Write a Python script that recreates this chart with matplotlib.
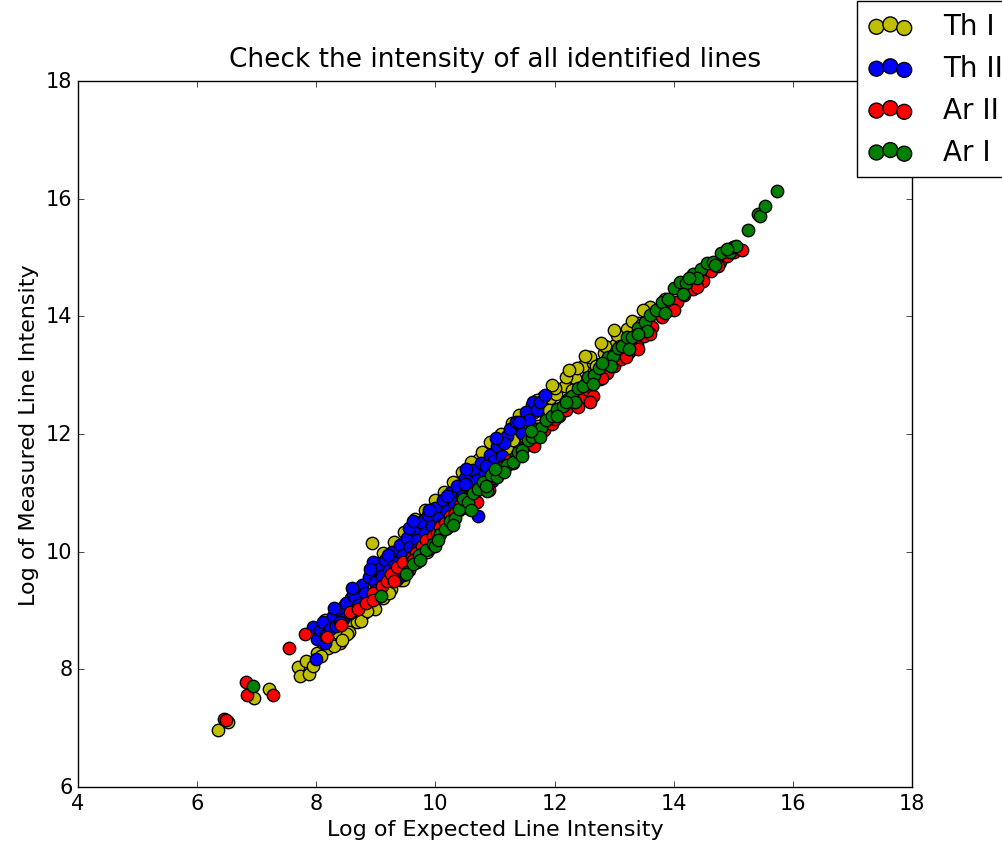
import numpy as np
import matplotlib
matplotlib.use("Agg")
import matplotlib.pyplot as plt

# Th I
thi_x = [6.35, 6.52, 6.95, 7.21, 7.69, 7.73, 7.83, 7.88, 7.95, 8.94,
         8.02, 8.05, 8.11, 8.14, 8.19, 8.23, 8.28, 8.33, 8.37, 8.40, 8.46, 8.50, 8.55, 8.59, 8.63,
         8.68, 8.72, 8.76, 8.81, 8.85, 8.90, 8.97,
         9.03, 9.07, 9.12, 9.16, 9.20, 9.26, 9.31, 9.35, 9.40, 9.44, 9.49, 9.55, 9.60, 9.64, 9.70,
         9.75, 9.80, 9.86, 9.90, 9.95,
         10.02, 10.06, 10.12, 10.17, 10.22, 10.27, 10.32, 10.38, 10.43, 10.48, 10.53, 10.58, 10.63,
         10.69, 10.74, 10.79, 10.85, 10.90, 10.96, 11.02,
         11.08, 11.13, 11.19, 11.25, 11.31, 11.38, 11.45, 11.52, 11.58, 11.65, 11.72, 11.79, 11.86, 11.93,
         12.02, 12.10, 12.18, 12.27, 12.35, 12.44, 12.48, 12.56, 12.65, 12.74, 12.83, 12.92, 13.02,
         13.12, 13.22, 13.31, 13.40, 13.50, 13.57, 13.60, 13.68,
         9.12, 9.30, 9.48, 9.66, 9.83, 10.00, 10.15, 10.30, 10.45, 10.60, 10.78, 10.92, 11.10, 11.28,
         11.40, 11.62, 11.80, 12.00, 12.20, 12.38, 12.60, 12.85, 13.05, 13.30, 13.48,
         8.08, 8.30, 8.52, 8.75, 8.98, 9.22, 9.45, 8.85, 8.43,
         10.20, 10.55, 11.30, 11.50, 11.90, 12.30, 12.70, 13.10, 13.45, 13.75, 13.85,
         11.70, 11.96, 12.25, 12.52, 12.78, 13.00]
thi_y = [6.97, 7.10, 7.51, 7.67, 8.04, 7.89, 8.14, 7.92, 8.06, 10.15,
         8.28, 8.62, 8.45, 8.83, 8.36, 8.71, 8.52, 8.95, 8.61, 8.44, 9.07, 8.78, 8.63, 9.21, 8.92,
         8.81, 9.34, 9.02, 8.95, 9.47, 9.15, 9.06,
         9.62, 9.30, 9.21, 9.79, 9.45, 9.37, 9.93, 9.60, 9.51, 10.08, 9.74, 9.68, 10.22, 9.90, 9.83,
         10.41, 10.06, 9.99, 10.55, 10.21,
         10.68, 10.35, 10.82, 10.49, 10.95, 10.62, 11.07, 10.75, 11.20, 10.88, 11.33, 11.01, 11.45,
         11.12, 11.58, 11.25, 11.68, 11.37, 11.81, 11.49,
         11.87, 11.60, 11.95, 11.72, 12.06, 11.84, 12.19, 12.26, 12.02, 12.38, 12.13, 12.50, 12.27, 12.61,
         12.68, 12.44, 12.82, 12.57, 12.95, 12.72, 13.16, 12.90, 13.21, 13.04, 13.37, 13.19, 13.52,
         13.36, 13.79, 13.60, 13.88, 13.72, 13.96, 14.16, 14.05,
         9.98, 10.16, 10.33, 10.55, 10.70, 10.88, 11.02, 11.18, 11.35, 11.52, 11.70, 11.86, 12.00, 12.18,
         12.32, 12.50, 12.62, 12.78, 12.96, 13.12, 13.30, 13.50, 13.68, 13.92, 14.10,
         8.22, 8.40, 8.60, 8.82, 9.03, 9.30, 9.52, 8.99, 8.50,
         10.70, 10.95, 11.90, 11.95, 12.40, 12.75, 13.15, 13.50, 13.85, 14.12, 14.30,
         12.58, 12.84, 13.08, 13.33, 13.55, 13.76]

# Th II
thii_x = [7.95, 8.00, 8.01, 8.06, 8.12, 8.17, 8.23, 8.28, 8.34, 8.39, 8.45, 8.50, 8.56, 8.62, 8.65,
          8.70, 8.76, 8.82, 8.88, 8.95, 8.99, 9.05, 9.10, 9.16, 9.22, 9.28, 9.33, 9.36, 9.40, 9.46,
          9.52, 9.58, 9.64, 9.70, 9.76, 9.82, 9.88, 9.94, 10.00, 10.06, 10.13, 10.19, 10.25, 10.31,
          10.37, 10.44, 10.50, 10.57, 10.63, 10.70, 10.71, 10.77, 10.84, 10.91, 10.97, 11.04, 11.12,
          11.20, 11.25, 11.36, 11.45, 11.52, 11.58, 11.64, 11.70, 11.76, 11.84,
          8.30, 8.60, 8.90, 9.20, 9.55, 9.90, 10.20, 10.50, 10.85, 11.15, 11.40, 9.00, 9.30, 9.70,
          10.10, 10.40, 8.40, 8.15, 9.45, 10.95, 9.62, 10.52, 11.02]
thii_y = [8.72, 8.18, 8.52, 8.66, 8.81, 8.58, 8.69, 8.90, 8.74, 9.01, 8.86, 9.13, 8.96, 9.27, 9.23,
          9.09, 9.44, 9.30, 9.57, 9.83, 9.48, 9.71, 9.58, 9.86, 9.69, 9.99, 9.81, 9.54, 10.12, 9.95,
          10.24, 10.08, 10.37, 10.19, 10.50, 10.31, 10.62, 10.43, 10.75, 10.57, 10.88, 10.69, 11.00, 10.82,
          11.12, 10.95, 11.26, 11.08, 11.39, 11.21, 10.60, 11.50, 11.33, 11.65, 11.54, 11.80, 11.62,
          11.97, 12.09, 12.20, 12.02, 12.38, 12.24, 12.55, 12.41, 12.55, 12.66,
          9.05, 9.38, 9.70, 9.95, 10.40, 10.70, 10.95, 11.15, 11.45, 11.85, 12.20, 9.35, 9.60, 10.05,
          10.45, 10.70, 8.80, 8.45, 9.60, 11.20, 10.52, 11.40, 11.93]

# Ar II
arii_x = [6.45, 6.49, 6.82, 6.84, 7.27, 7.54, 7.81,
          8.18, 8.42, 8.57, 8.70, 8.84, 8.96, 9.10, 9.18, 9.26, 9.36, 9.46, 9.52, 9.60, 9.68, 9.77,
          9.85, 9.96, 10.02, 10.08, 10.16, 10.25, 10.33, 10.42, 10.50, 10.58, 10.66, 10.75, 10.87,
          10.95, 11.05, 11.14, 11.25, 11.36, 11.47, 11.58, 11.70, 11.82, 11.95, 12.08, 12.20, 12.33,
          12.45, 12.56, 12.65, 12.76, 12.88, 13.00, 13.12, 13.25, 13.38, 13.50, 13.64, 13.80, 13.92,
          14.05, 14.18, 14.32, 14.49, 14.62, 14.78, 14.90, 15.02, 15.15,
          8.95, 9.30, 9.62, 9.90, 10.20, 10.55, 10.90, 11.30, 11.65, 12.00, 12.40, 12.80, 13.20,
          13.60, 14.00, 14.40, 14.75, 13.40, 12.60, 10.70]
arii_y = [7.16, 7.13, 7.79, 7.56, 7.56, 8.36, 8.60,
          8.55, 8.76, 8.97, 9.03, 9.12, 9.30, 9.42, 9.50, 9.62, 9.74, 9.83, 9.66, 9.91, 9.97, 10.10,
          10.20, 10.27, 10.32, 10.42, 10.48, 10.60, 10.66, 10.79, 10.83, 10.95, 11.02, 11.08, 11.20,
          11.25, 11.33, 11.45, 11.56, 11.62, 11.76, 11.85, 11.98, 12.06, 12.17, 12.30, 12.40, 12.52,
          12.60, 12.74, 12.65, 12.93, 13.03, 13.15, 13.27, 13.39, 13.52, 13.66, 13.82, 13.99, 14.10,
          14.24, 14.36, 14.47, 14.60, 14.77, 14.92, 15.03, 15.09, 15.12,
          9.18, 9.50, 9.85, 10.05, 10.40, 10.75, 11.05, 11.50, 11.80, 12.25, 12.45, 12.95, 13.30,
          13.70, 14.10, 14.50, 14.85, 13.45, 12.55, 10.85]

# Ar I
ari_x = [6.94,
         9.08, 9.62, 9.72, 9.84, 9.96, 9.99, 10.08, 10.17, 10.24, 10.33, 10.40, 10.46, 10.55, 10.63,
         10.72, 10.80, 10.87, 10.93, 11.03, 11.10, 11.20, 11.31, 11.38, 11.46, 11.55, 11.63, 11.70,
         11.78, 11.86, 11.95, 12.04, 12.14, 12.22, 12.30, 12.40, 12.48, 12.57, 12.66, 12.75, 12.84,
         12.90, 12.98, 13.06, 13.14, 13.22, 13.30, 13.40, 13.52, 13.60, 13.70, 13.80, 13.90, 14.00,
         14.10, 14.20, 14.33, 14.46, 14.56, 14.66, 14.80, 14.94, 15.00, 15.25, 15.42, 15.45, 15.53, 15.73,
         9.50, 9.75, 10.05, 10.30, 10.60, 10.85, 11.15, 11.45, 11.75, 12.05, 12.35, 12.65, 12.95,
         13.25, 13.55, 13.85, 14.15, 14.40, 14.70, 11.00, 11.60, 12.20, 12.80, 13.40, 14.25, 15.05, 14.90]
ari_y = [7.72,
         9.24, 9.79, 9.95, 10.02, 10.13, 10.10, 10.30, 10.38, 10.52, 10.58, 10.72, 10.90, 10.84, 11.00,
         11.06, 11.18, 11.03, 11.30, 11.27, 11.42, 11.48, 11.52, 11.70, 11.72, 11.90, 11.95, 12.09,
         12.10, 12.24, 12.30, 12.42, 12.48, 12.60, 12.65, 12.78, 12.82, 12.96, 13.00, 13.12, 13.20,
         13.30, 13.33, 13.46, 13.50, 13.65, 13.64, 13.80, 13.90, 14.02, 14.10, 14.25, 14.30, 14.48,
         14.59, 14.56, 14.72, 14.80, 14.90, 14.93, 15.08, 15.10, 15.17, 15.47, 15.74, 15.70, 15.88, 16.13,
         9.62, 9.85, 10.20, 10.45, 10.70, 11.12, 11.35, 11.62, 11.95, 12.30, 12.55, 12.85, 13.15,
         13.45, 13.75, 14.05, 14.38, 14.65, 14.88, 11.40, 12.05, 12.55, 13.20, 13.70, 14.65, 15.20, 15.15]

plt.style.use('classic')
plt.rcParams['figure.facecolor'] = 'white'
plt.rcParams['savefig.facecolor'] = 'white'

fig = plt.figure(figsize=(10.02, 8.45), dpi=100)
ax = fig.add_axes([0.0778, 0.0675, 0.8323, 0.8355])

sz = 80
ax.scatter(thi_x, thi_y, s=sz, c='y', edgecolors='k', label='Th I')
ax.scatter(thii_x, thii_y, s=sz, c='b', edgecolors='k', label='Th II')
ax.scatter(arii_x, arii_y, s=sz, c='r', edgecolors='k', label='Ar II')
ax.scatter(ari_x, ari_y, s=sz, c='g', edgecolors='k', label='Ar I')

ax.set_xlim(4, 18)
ax.set_ylim(6, 18)
ax.set_xticks(range(4, 19, 2))
ax.set_yticks(range(6, 19, 2))
ax.tick_params(labelsize=15)
ax.set_title('Check the intensity of all identified lines', fontsize=19, pad=11)
ax.set_xlabel('Log of Expected Line Intensity', fontsize=16)
ax.set_ylabel('Log of Measured Line Intensity', fontsize=16)

ax.legend(loc='upper left', bbox_to_anchor=(857 / 1002, 1 - 2 / 845),
          bbox_transform=fig.transFigure, scatterpoints=3, fontsize=20,
          fancybox=False, borderaxespad=0, labelspacing=0.5, handlelength=1.6,
          handletextpad=1.1, markerscale=1.2)

fig.savefig('out.png', dpi=100)
